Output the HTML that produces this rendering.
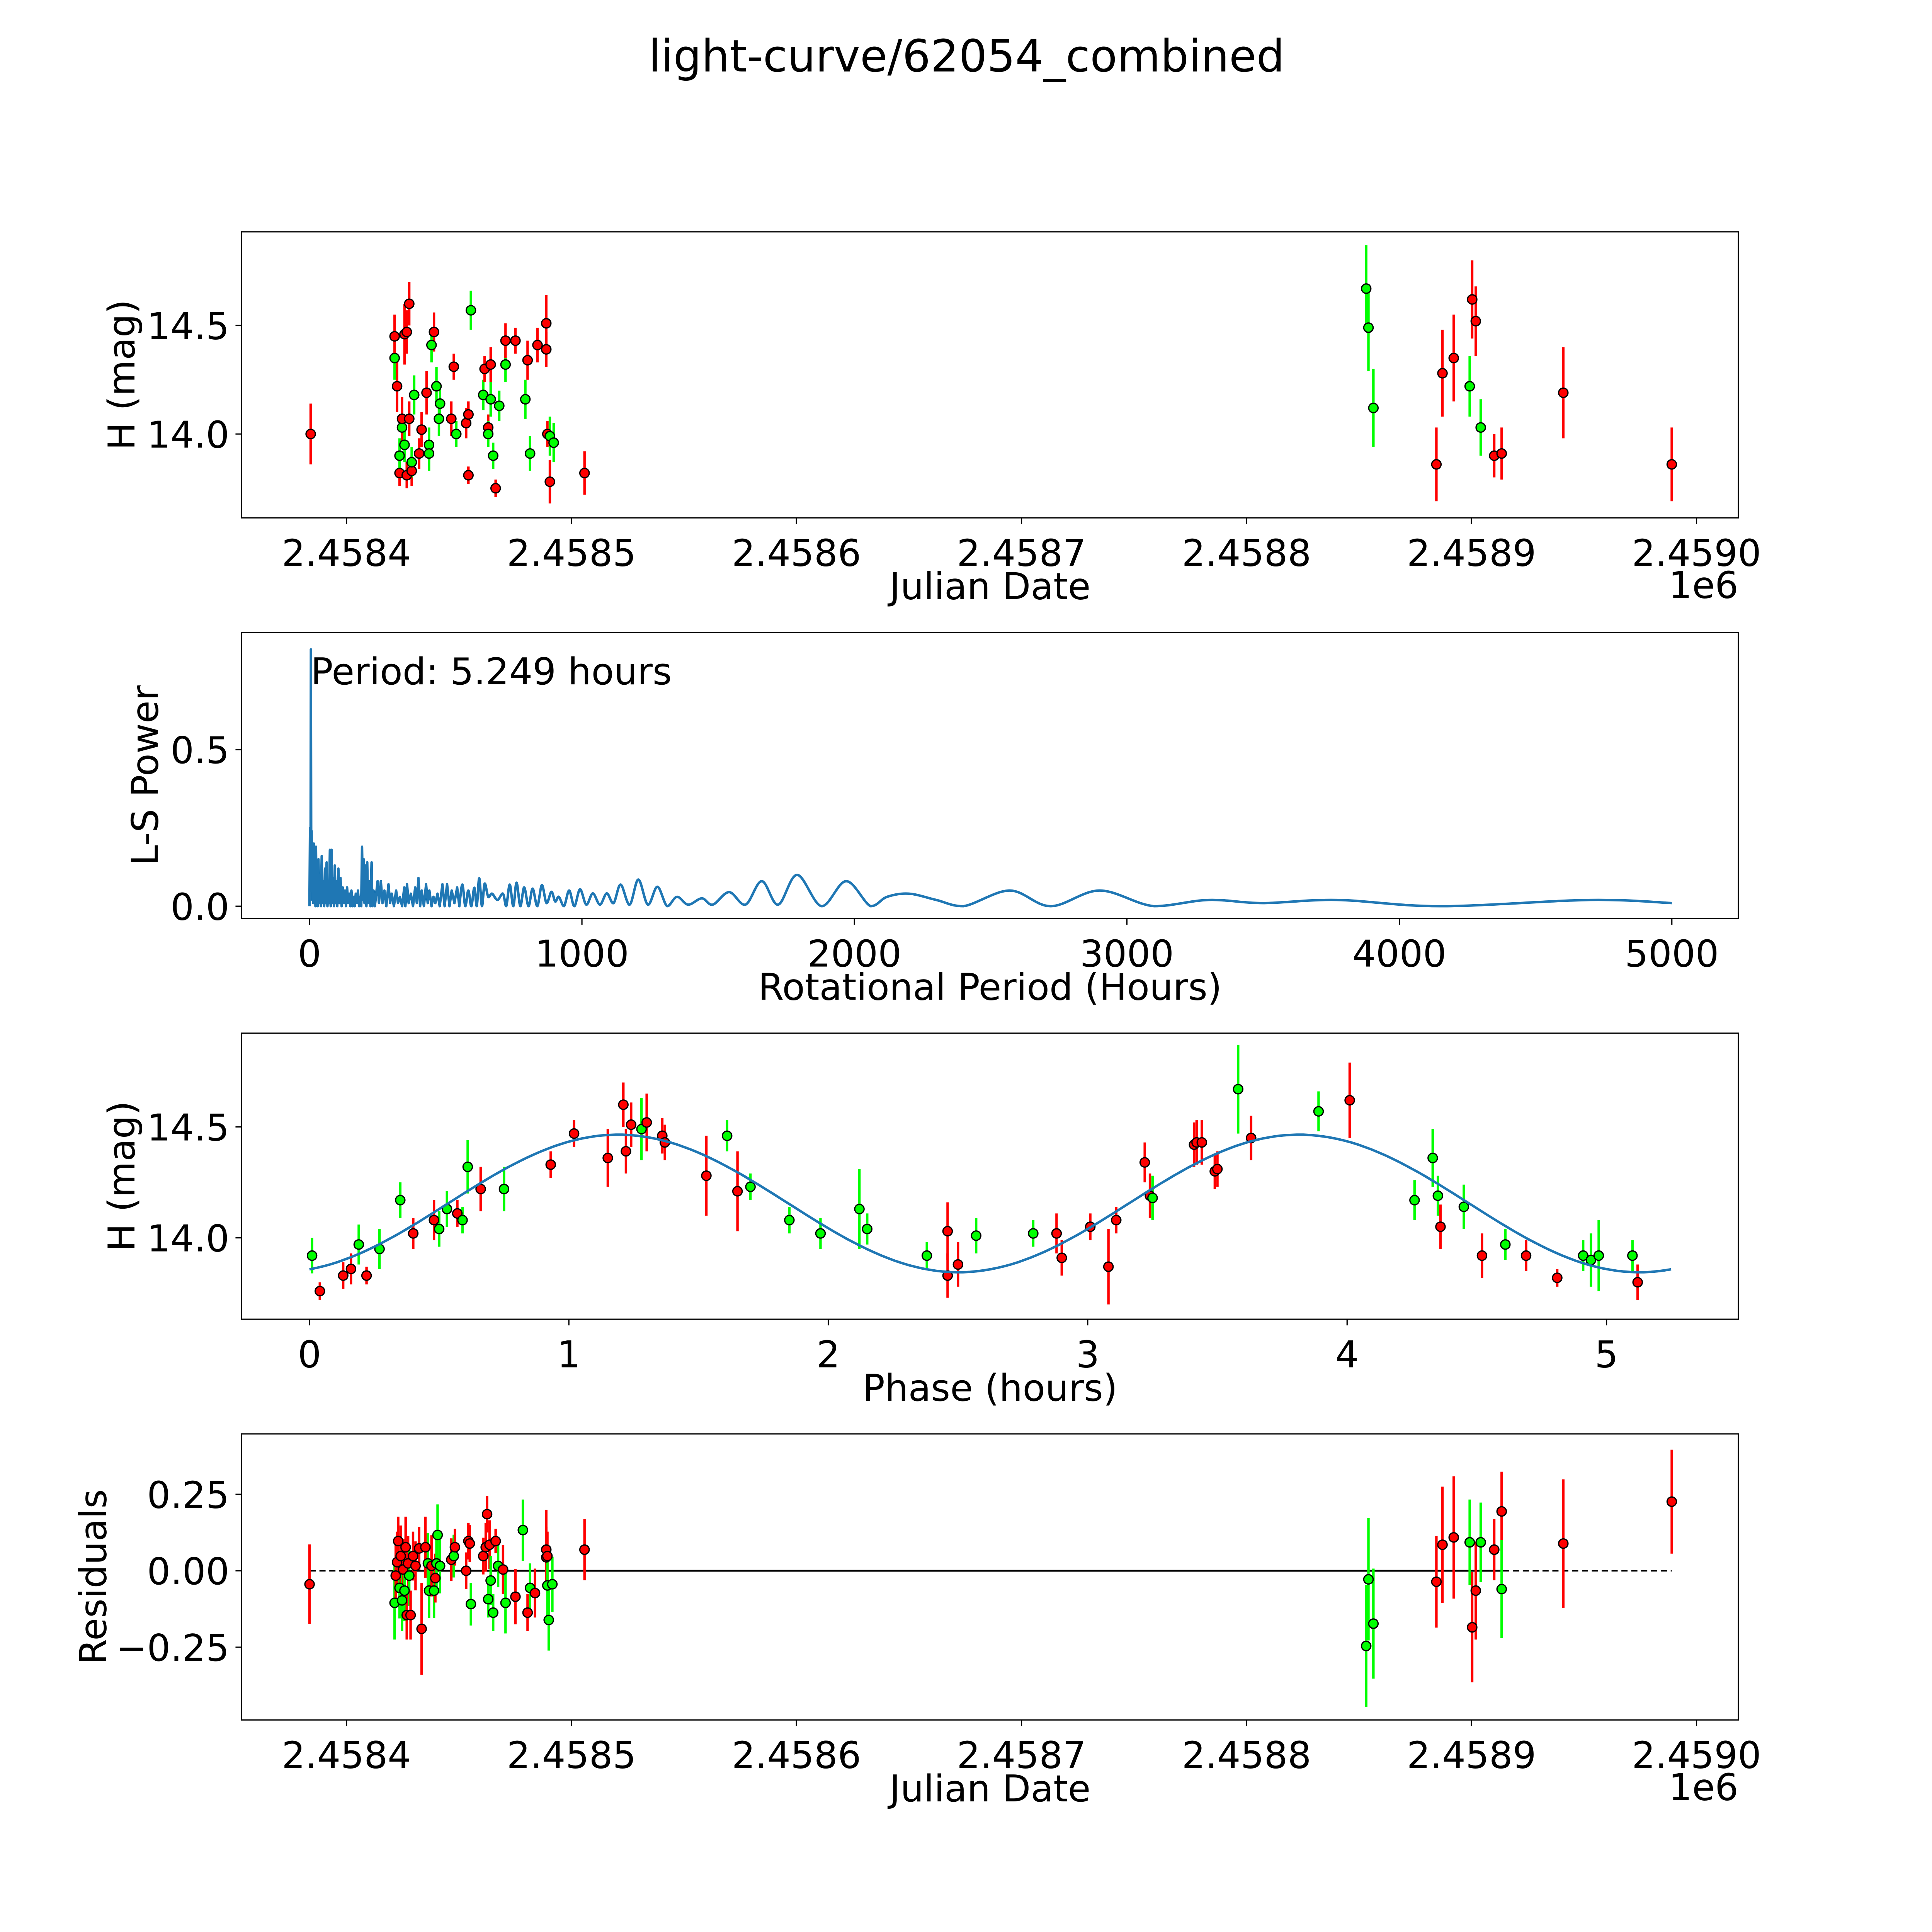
<!DOCTYPE html>
<html><head><meta charset="utf-8"><style>
html,body{margin:0;padding:0;background:#fff;width:100%;height:100%;overflow:hidden;}
svg{display:block;width:100vw;height:100vh;font-family:"DejaVu Sans","Liberation Sans",sans-serif;}
</style></head><body>
<svg id="fig" viewBox="0 0 1567 1567" preserveAspectRatio="none" xmlns="http://www.w3.org/2000/svg">
<rect width="1567" height="1567" fill="#fff"/>
<text x="784" y="58" font-size="36" text-anchor="middle">light-curve/62054_combined</text>
</svg>
<script>
// ---- Panel 1: light curve (days since JD 2458400) ----
const jd1=[-15.9,21.4,21.4,22.5,23.6,23.6,24.7,24.7,25.8,26.8,25.8,26.8,27.9,27.9,29.0,29.0,30.1,32.3,33.4,35.6,36.7,36.7,37.8,38.9,40.0,41.1,41.6,46.6,47.7,48.8,53.2,54.2,54.2,55.3,60.8,61.4,63.0,63.0,64.1,64.1,65.2,66.3,67.9,70.7,70.7,75.1,79.5,80.5,81.6,84.9,88.8,88.8,89.3,90.4,90.4,92.1,105.8,453.2,454.2,456.4,484.4,487.1,492.1,499.2,500.3,501.9,504.1,510.1,513.4,540.8,589.0];
const mag1=[14.0,14.35,14.45,14.22,13.82,13.9,14.03,14.07,14.46,14.47,13.95,13.81,14.6,14.07,13.83,13.87,14.18,13.91,14.02,14.19,13.95,13.91,14.41,14.47,14.22,14.07,14.14,14.07,14.31,14.0,14.05,13.81,14.09,14.57,14.18,14.3,14.03,14.0,14.32,14.16,13.9,13.75,14.13,14.32,14.43,14.43,14.16,14.34,13.91,14.41,14.51,14.39,14.0,13.78,13.99,13.96,13.82,14.67,14.49,14.12,13.86,14.28,14.35,14.22,14.62,14.52,14.03,13.9,13.91,14.19,13.86];
const band1=['r','g','r','r','r','g','g','r','r','r','g','r','r','r','r','g','g','r','r','r','g','g','g','r','g','g','g','r','r','g','r','r','r','g','g','r','r','g','r','g','g','r','g','g','r','r','g','r','g','r','r','r','r','r','g','g','r','g','g','g','r','r','r','g','r','r','g','r','r','r','r'];
const err1=[0.14,0.1,0.1,0.12,0.06,0.08,0.09,0.1,0.14,0.1,0.08,0.06,0.1,0.08,0.07,0.07,0.09,0.07,0.08,0.1,0.08,0.08,0.08,0.09,0.09,0.08,0.08,0.08,0.06,0.06,0.07,0.04,0.06,0.09,0.07,0.06,0.06,0.06,0.08,0.08,0.06,0.04,0.07,0.08,0.08,0.06,0.09,0.09,0.08,0.08,0.13,0.08,0.06,0.1,0.09,0.09,0.1,0.2,0.2,0.18,0.17,0.2,0.2,0.14,0.18,0.16,0.13,0.1,0.12,0.21,0.17];
// ---- Panel 2: periodogram (spiky short-period part, then smooth long-period part) ----
const lsPeriodA=[0,2,4,5.25,6.5,8,10,12,14,16,18,20,22,24,26,28,30,33,36,39,42,45,48,51,54,57,60,63,66,69,72,75,78,81,84,87,90,93,96,99,102,106,110,114,118,122,126,130,134,138,142,146,150,154,158,162,166,170,174,178,182,186,190,193,196,199,202,206,209,212,215,220,224,228,231,235,240,250,255,262,268,275,282,290,296,302,310,318,325,332,340,348,352,358,364,372,380,388,394,400,406,412,420,428,434,440,448,455,462,470,478,488,496,505,514,522,532,542,550];
const lsPowerA=[0,0.25,0.05,0.82,0.1,0.24,0.02,0.17,0.01,0.2,0.02,0.14,0.0,0.19,0.01,0.12,0.0,0.15,0.01,0.1,0.0,0.16,0.01,0.08,0.0,0.12,0.01,0.14,0.0,0.07,0.01,0.18,0.0,0.18,0.01,0.09,0.0,0.13,0.01,0.08,0.0,0.12,0.01,0.09,0.0,0.06,0.01,0.05,0.0,0.06,0.01,0.04,0.0,0.05,0.0,0.03,0.0,0.04,0.01,0.05,0.0,0.03,0.0,0.19,0.02,0.15,0.01,0.13,0.0,0.14,0.01,0.08,0.0,0.14,0.0,0.05,0.0,0.08,0.01,0.08,0.01,0.05,0.0,0.07,0.01,0.04,0.0,0.05,0.01,0.03,0.0,0.06,0.0,0.07,0.01,0.04,0.0,0.06,0.01,0.09,0.0,0.05,0.0,0.07,0.01,0.05,0.0,0.03,0.01,0.04,0.0,0.07,0.0,0.07,0.0,0.05,0.01,0.06,0.0];
const lsPeriodB=[561,572,583,594,605,614,623,633,643,656,670,690,710,722,735,748,760,774,788,804,819,836,853,870,888,902,915,934,953,972,993,1016,1040,1066,1091,1116,1142,1175,1207,1242,1277,1313,1349,1390,1440,1480,1540,1600,1660,1720,1790,1880,1970,2060,2120,2200,2300,2400,2570,2720,2900,3100,3300,3500,3770,4150,4700,5000];
const lsPowerB=[0.069,0,0.05,0,0.059,0,0.089,0,0.072,0.03,0.04,0.02,0.04,0,0.069,0,0.075,0,0.06,0,0.056,0,0.067,0.01,0.046,0.015,0.03,0,0.05,0,0.054,0.005,0.041,0.005,0.041,0.01,0.069,0.005,0.085,0.005,0.062,0.0,0.03,0.005,0.025,0.005,0.045,0.005,0.08,0.005,0.1,0.0,0.08,0.0,0.03,0.04,0.02,0.0,0.05,0.0,0.05,0.0,0.02,0.01,0.02,0.0,0.02,0.01];
const bestPeriod=5.249;
// ---- Panel 3: phased curve ----
const phase3=[0.01,0.04,0.13,0.16,0.19,0.22,0.27,0.35,0.40,0.48,0.50,0.53,0.57,0.59,0.61,0.66,0.75,0.93,1.02,1.15,1.21,1.22,1.24,1.28,1.30,1.36,1.37,1.53,1.61,1.65,1.70,1.85,1.97,2.12,2.15,2.38,2.46,2.46,2.50,2.57,2.79,2.88,2.90,3.01,3.08,3.11,3.22,3.24,3.25,3.41,3.42,3.44,3.49,3.50,3.58,3.63,3.89,4.01,4.26,4.33,4.35,4.36,4.45,4.52,4.61,4.69,4.81,4.91,4.94,4.97,5.10,5.12];
const mag3=[13.92,13.76,13.83,13.86,13.97,13.83,13.95,14.17,14.02,14.08,14.04,14.13,14.11,14.08,14.32,14.22,14.22,14.33,14.47,14.36,14.6,14.39,14.51,14.49,14.52,14.46,14.43,14.28,14.46,14.21,14.23,14.08,14.02,14.13,14.04,13.92,14.03,13.83,13.88,14.01,14.02,14.02,13.91,14.05,13.87,14.08,14.34,14.19,14.18,14.42,14.43,14.43,14.3,14.31,14.67,14.45,14.57,14.62,14.17,14.36,14.19,14.05,14.14,13.92,13.97,13.92,13.82,13.92,13.9,13.92,13.92,13.8];
const band3=['g','r','r','r','g','r','g','g','r','r','g','g','r','g','g','r','g','r','r','r','r','r','r','g','r','r','r','r','g','r','g','g','g','g','g','g','r','r','r','g','g','r','r','r','r','r','r','r','g','r','r','r','r','r','g','r','g','r','g','g','g','r','g','r','g','r','r','g','g','g','g','r'];
const err3=[0.08,0.04,0.06,0.07,0.09,0.04,0.09,0.08,0.07,0.09,0.08,0.08,0.06,0.06,0.12,0.1,0.1,0.06,0.06,0.13,0.1,0.1,0.1,0.14,0.13,0.08,0.08,0.18,0.07,0.18,0.06,0.06,0.07,0.18,0.07,0.06,0.13,0.1,0.1,0.08,0.06,0.09,0.08,0.06,0.17,0.06,0.09,0.1,0.1,0.1,0.1,0.1,0.08,0.08,0.2,0.1,0.09,0.17,0.09,0.13,0.09,0.1,0.1,0.1,0.07,0.07,0.04,0.07,0.12,0.16,0.07,0.08];
const modelMean=14.155, modelAmp=0.31, modelPhase0=0.534;
// ---- Panel 4: residuals ----
const jd4=[-16.4,21.4,21.9,22.5,23.0,23.6,24.1,24.7,25.2,25.8,26.3,26.8,27.4,27.9,28.5,29.6,30.7,32.3,33.4,35.1,36.2,36.7,37.8,38.9,39.5,40.0,40.5,41.6,46.6,47.7,48.2,53.2,54.2,54.8,55.3,60.8,61.9,62.5,63.6,63.0,64.1,65.2,66.3,67.4,69.6,70.7,75.1,78.4,80.5,81.6,83.8,88.8,88.8,89.3,89.3,89.9,91.5,105.8,453.2,454.2,456.4,484.4,487.1,492.1,499.2,500.3,501.9,504.1,510.1,513.4,513.4,540.8,589.0];
const res4=[-0.044,-0.105,-0.016,0.028,0.097,-0.056,0.048,-0.097,0.004,-0.065,0.077,-0.145,0.024,-0.016,-0.145,0.048,0.016,0.073,-0.19,0.077,0.024,-0.065,0.016,-0.065,-0.024,0.024,0.117,0.016,0.036,0.048,0.077,0.0,0.097,0.089,-0.109,0.048,0.077,0.185,0.085,-0.093,-0.032,-0.137,0.097,0.016,0.004,-0.105,-0.085,0.133,-0.137,-0.056,-0.073,0.069,0.044,0.048,-0.048,-0.161,-0.044,0.069,-0.246,-0.028,-0.173,-0.036,0.085,0.109,0.093,-0.185,-0.065,0.093,0.069,0.194,-0.06,0.089,0.226];
const band4=['r','g','r','r','r','g','r','g','r','g','r','r','r','g','r','r','r','r','r','r','g','g','r','g','r','g','g','g','r','g','r','r','r','r','g','r','r','r','r','g','g','g','r','g','r','g','r','g','r','g','r','r','r','r','g','g','g','r','g','g','g','r','r','r','g','r','r','g','r','r','g','r','r'];
const err4=[0.13,0.12,0.1,0.1,0.08,0.1,0.1,0.1,0.1,0.1,0.1,0.08,0.09,0.1,0.08,0.08,0.08,0.07,0.15,0.1,0.1,0.09,0.1,0.09,0.08,0.1,0.1,0.09,0.07,0.07,0.06,0.06,0.06,0.06,0.07,0.06,0.08,0.06,0.08,0.06,0.08,0.06,0.04,0.07,0.08,0.1,0.09,0.1,0.06,0.08,0.08,0.13,0.1,0.08,0.1,0.1,0.09,0.1,0.2,0.2,0.18,0.15,0.19,0.2,0.14,0.18,0.16,0.13,0.1,0.13,0.16,0.21,0.17];

const NS='http://www.w3.org/2000/svg';
const svg=document.getElementById('fig');
function el(tag,attrs,parent){const e=document.createElementNS(NS,tag);for(const k in attrs)e.setAttribute(k,attrs[k]);(parent||svg).appendChild(e);return e;}
const L=196,R=1410;
const COL={r:'#ff0000',g:'#00ff00'};
const TF=30;

function panel(top,name){
  const g=el('g',{});
  
  
  return {g,top,bot:top+232};
}
function frame(p){
  const r=el('rect',{x:L,y:p.top,width:R-L,height:232,fill:'none',stroke:'#000','stroke-width':1});
  
  
  p.g.appendChild(r);
}
function xticks(p,vals,labels,sx){
  vals.forEach((v,i)=>{const x=sx(v);
    const t=el('line',{x1:x,x2:x,y1:p.bot,y2:p.bot+5,stroke:'#000'},p.g);
    
    
    const tx=el('text',{x:x,y:p.bot+39,'font-size':TF,'text-anchor':'middle'},p.g);tx.textContent=labels[i];
    
    
  });
}
function yticks(p,vals,labels,sy){
  vals.forEach((v,i)=>{const y=sy(v);
    const t=el('line',{x1:L-5,x2:L,y1:y,y2:y,stroke:'#000'},p.g);
    
    
    const tx=el('text',{x:L-10,y:y+11,'font-size':TF,'text-anchor':'end'},p.g);tx.textContent=labels[i];
    
    
  });
}
function xlabel(p,txt,nm){const t=el('text',{x:803,y:p.bot+66,'font-size':30,'text-anchor':'middle'},p.g);t.textContent=txt;
  
  }
function ylabel(p,txt,x,nm){const cy=p.top+116;const t=el('text',{x:x,y:cy,'font-size':30,'text-anchor':'middle',transform:`rotate(-90 ${x} ${cy})`},p.g);t.textContent=txt;
  
  }
function points(p,xs,ys,errs,bands,sx,sy){
  const gg=el('g',{},p.g);
  xs.forEach((xv,i)=>{const x=sx(xv),c=COL[bands[i]];
    const e=el('line',{x1:x,x2:x,y1:sy(ys[i]+errs[i]),y2:sy(ys[i]-errs[i]),stroke:c,'stroke-width':2},gg);
    
    
  });
  xs.forEach((xv,i)=>{const x=sx(xv),y=sy(ys[i]),c=COL[bands[i]];
    const d=el('circle',{cx:x,cy:y,r:3.8,fill:c,stroke:'#000','stroke-width':1},gg);
    
    
  });
}
const sxJD=d=>281+d*1.825;
const jdTicks=[0,100,200,300,400,500,600];
const jdLabels=['2.4584','2.4585','2.4586','2.4587','2.4588','2.4589','2.4590'];

// Panel 1
const p1=panel(188,'light-curve-panel');
const sy1=m=>352-(m-14)*176;
points(p1,jd1,mag1,err1,band1,sxJD,sy1);
frame(p1);
xticks(p1,jdTicks,jdLabels,sxJD);
yticks(p1,[14.0,14.5],['14.0','14.5'],sy1);
xlabel(p1,'Julian Date','x-axis-title');
ylabel(p1,'H (mag)',109,'y-axis-title');
{const t=el('text',{x:1410,y:p1.bot+65,'font-size':TF,'text-anchor':'end'},p1.g);t.textContent='1e6';

}

// Panel 2
const p2=panel(513,'periodogram-panel');
const sx2=h=>251+h*0.221, sy2=v=>735-v*254;
{
  let d='M'+sx2(lsPeriodA[0]).toFixed(2)+','+sy2(lsPowerA[0]).toFixed(2);
  for(let i=1;i<lsPeriodA.length;i++) d+=' L'+sx2(lsPeriodA[i]).toFixed(2)+','+sy2(lsPowerA[i]).toFixed(2);
  const P=[[lsPeriodA[lsPeriodA.length-1],lsPowerA[lsPowerA.length-1]]].concat(lsPeriodB.map((h,i)=>[h,lsPowerB[i]])).map(q=>[sx2(q[0]),sy2(q[1])]);
  for(let i=0;i<P.length-1;i++){
    const p0=P[Math.max(0,i-1)],pa=P[i],pb=P[i+1],p3=P[Math.min(P.length-1,i+2)];
    const c1=[pa[0]+(pb[0]-p0[0])/6,pa[1]+(pb[1]-p0[1])/6];
    const c2=[pb[0]-(p3[0]-pa[0])/6,pb[1]-(p3[1]-pa[1])/6];
    d+=` C${c1[0].toFixed(2)},${Math.min(c1[1],735).toFixed(2)} ${c2[0].toFixed(2)},${Math.min(c2[1],735).toFixed(2)} ${pb[0].toFixed(2)},${pb[1].toFixed(2)}`;
  }
  const pl=el('path',{d:d,fill:'none',stroke:'#1f77b4','stroke-width':2,'stroke-linejoin':'round'},p2.g);
  
  
}
frame(p2);
xticks(p2,[0,1000,2000,3000,4000,5000],['0','1000','2000','3000','4000','5000'],sx2);
yticks(p2,[0,0.5],['0.0','0.5'],sy2);
xlabel(p2,'Rotational Period (Hours)','x-axis-title');
ylabel(p2,'L-S Power',128,'y-axis-title');
{const t=el('text',{x:252,y:555,'font-size':30},p2.g);t.textContent='Period: '+bestPeriod+' hours';

}

// Panel 3
const p3=panel(838,'phase-panel');
const sx3=ph=>251+ph*210.4, sy3=m=>1004-(m-14)*180;
points(p3,phase3,mag3,err3,band3,sx3,sy3);
{let pts=[];for(let i=0;i<=200;i++){const ph=bestPeriod*i/200;const m=modelMean+modelAmp*Math.sin(2*Math.PI*2*(ph-modelPhase0)/bestPeriod);pts.push(sx3(ph).toFixed(1)+','+sy3(m).toFixed(1));}
const pl=el('polyline',{points:pts.join(' '),fill:'none',stroke:'#1f77b4','stroke-width':2},p3.g);

}
frame(p3);
xticks(p3,[0,1,2,3,4,5],['0','1','2','3','4','5'],sx3);
yticks(p3,[14.0,14.5],['14.0','14.5'],sy3);
xlabel(p3,'Phase (hours)','x-axis-title');
ylabel(p3,'H (mag)',109,'y-axis-title');

// Panel 4
const p4=panel(1163,'residuals-panel');
const sy4=r=>1274-r*248;
{const d=el('line',{x1:sxJD(-16.4),x2:sxJD(589),y1:sy4(0),y2:sy4(0),stroke:'#000','stroke-width':1.3,'stroke-dasharray':'5,3'},p4.g);


const s=el('line',{x1:sxJD(21.4),x2:sxJD(513.4),y1:sy4(0),y2:sy4(0),stroke:'#000','stroke-width':1.5},p4.g);

}
points(p4,jd4,res4,err4,band4,sxJD,sy4);
frame(p4);
xticks(p4,jdTicks,jdLabels,sxJD);
yticks(p4,[-0.25,0,0.25],['\u22120.25','0.00','0.25'],sy4);
xlabel(p4,'Julian Date','x-axis-title');
ylabel(p4,'Residuals',86,'y-axis-title');
{const t=el('text',{x:1410,y:p4.bot+65,'font-size':TF,'text-anchor':'end'},p4.g);t.textContent='1e6';

}
</script>
</body></html>
